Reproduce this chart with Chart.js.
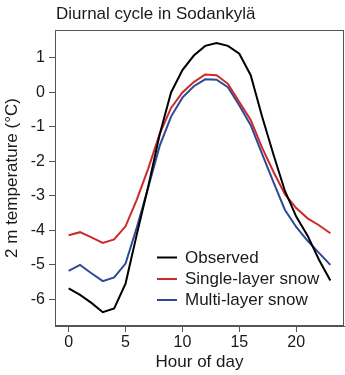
<!DOCTYPE html>
<html>
<head>
<meta charset="utf-8">
<title>Diurnal cycle in Sodankylä</title>
<script src="https://cdn.jsdelivr.net/npm/chart.js@4.4.1/dist/chart.umd.min.js"></script>
<style>
  html, body { margin: 0; padding: 0; background: #ffffff; }
  #wrap { position: relative; width: 345px; height: 375px; }
</style>
</head>
<body>
<div id="wrap"><canvas id="chart"></canvas></div>
<script>
// Hour of day and 2 m temperature (°C)
const hours = [0,1,2,3,4,5,6,7,8,9,10,11,12,13,14,15,16,17,18,19,20,21,22,23];
const observed = [-5.68,-5.87,-6.1,-6.37,-6.26,-5.54,-4.1,-2.72,-1.22,0.0,0.65,1.07,1.35,1.43,1.35,1.12,0.5,-0.7,-1.8,-2.85,-3.6,-4.15,-4.85,-5.45];
const singleLayer = [-4.14,-4.05,-4.2,-4.36,-4.26,-3.88,-3.1,-2.2,-1.2,-0.45,0.0,0.3,0.52,0.5,0.25,-0.28,-0.8,-1.6,-2.3,-2.95,-3.35,-3.65,-3.85,-4.08];
const multiLayer = [-5.17,-5.0,-5.24,-5.47,-5.36,-4.96,-3.9,-2.75,-1.55,-0.7,-0.15,0.18,0.38,0.37,0.15,-0.38,-0.95,-1.78,-2.6,-3.4,-3.9,-4.3,-4.65,-5.0];

const seriesLabels = ['Observed', 'Single-layer snow', 'Multi-layer snow'];
const seriesColors = ['#000000', '#cc2b2b', '#2c4a96'];
const xTicks = [0, 5, 10, 15, 20];
const yTicks = [-6, -5, -4, -3, -2, -1, 0, 1];

const FONT = '"Liberation Sans", Arial, Helvetica, sans-serif';
const AXIS_COLOR = '#555555';
const TEXT_COLOR = '#1a1a1a';

const toPoints = vals => hours.map((h, i) => ({ x: h, y: vals[i] }));

// Frame around the plotting area, title above it and legend inside it
const framePlugin = {
  id: 'frame',
  beforeDraw(chart) {
    const ctx = chart.ctx;
    ctx.save();
    ctx.fillStyle = TEXT_COLOR;
    ctx.font = '17px ' + FONT;
    ctx.textAlign = 'left';
    ctx.textBaseline = 'middle';
    ctx.fillText('Diurnal cycle in Sodankylä', 56, 14);
    ctx.restore();
  },
  afterDatasetsDraw(chart) {
    const { ctx, chartArea: a } = chart;
    ctx.save();
    ctx.strokeStyle = AXIS_COLOR;
    ctx.lineWidth = 1;
    ctx.strokeRect(a.left + 0.5, a.top + 0.5, a.right - a.left - 1, a.bottom - a.top - 1);

    // legend entries
    const x0 = 157, x1 = 177, tx = 185;
    const rows = [257.5, 279, 300];
    ctx.font = '17px ' + FONT;
    ctx.textAlign = 'left';
    ctx.textBaseline = 'middle';
    chart.data.datasets.forEach((ds, i) => {
      ctx.strokeStyle = ds.borderColor;
      ctx.lineWidth = 2;
      ctx.beginPath();
      ctx.moveTo(x0, rows[i]);
      ctx.lineTo(x1, rows[i]);
      ctx.stroke();
      ctx.fillStyle = TEXT_COLOR;
      ctx.fillText(ds.label, tx, rows[i] + 0.5);
    });
    ctx.restore();
  }
};

const datasets = [observed, singleLayer, multiLayer].map((vals, i) => ({
  label: seriesLabels[i],
  data: toPoints(vals),
  borderColor: seriesColors[i],
  backgroundColor: seriesColors[i],
  borderWidth: 2,
  pointRadius: 0,
  tension: 0,
  fill: false
}));

new Chart(document.getElementById('chart'), {
  type: 'line',
  data: { datasets },
  plugins: [framePlugin],
  options: {
    responsive: true,
    maintainAspectRatio: false,
    devicePixelRatio: 1,
    animation: false,
    events: [],
    layout: { padding: { top: 30, right: 1, left: 0, bottom: 0 } },
    plugins: {
      legend: { display: false },
      title: { display: false },
      tooltip: { enabled: false }
    },
    scales: {
      x: {
        type: 'linear',
        min: -1.2,
        max: 24.2,
        afterBuildTicks: s => { s.ticks = xTicks.map(v => ({ value: v })); },
        afterFit: s => { s.height = 49; },
        grid: { drawOnChartArea: false, drawTicks: true, tickLength: 6, color: AXIS_COLOR },
        border: { display: true, color: AXIS_COLOR, width: 1 },
        ticks: { color: TEXT_COLOR, font: { family: FONT, size: 16 }, padding: 1, maxRotation: 0 },
        title: { display: true, text: 'Hour of day', color: TEXT_COLOR, font: { family: FONT, size: 17 }, padding: { top: 0, bottom: 2 } }
      },
      y: {
        type: 'linear',
        min: -6.77,
        max: 1.81,
        afterBuildTicks: s => { s.ticks = yTicks.map(v => ({ value: v })); },
        afterFit: s => { s.width = 55; },
        grid: { drawOnChartArea: false, drawTicks: true, tickLength: 6, color: AXIS_COLOR },
        border: { display: true, color: AXIS_COLOR, width: 1 },
        ticks: { color: TEXT_COLOR, font: { family: FONT, size: 16 }, padding: 4 },
        title: { display: true, text: '2 m temperature (°C)', color: TEXT_COLOR, font: { family: FONT, size: 17 }, padding: { top: 2, bottom: 0 } }
      }
    }
  }
});
</script>
</body>
</html>
